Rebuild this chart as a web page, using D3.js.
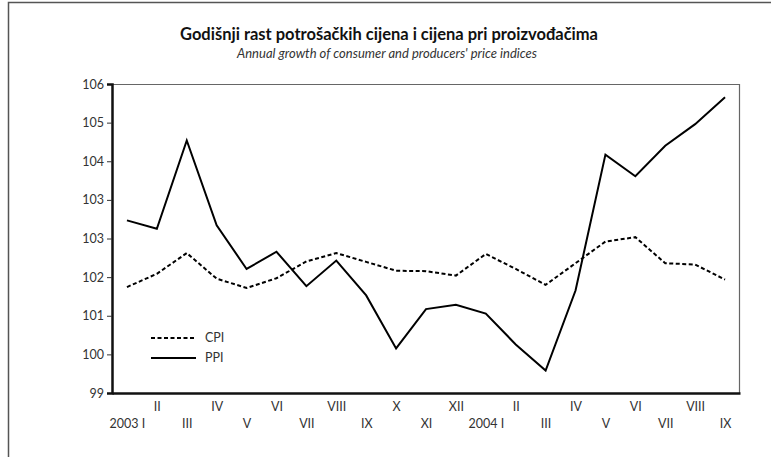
<!DOCTYPE html>
<html>
<head>
<meta charset="utf-8">
<script src="https://cdn.jsdelivr.net/npm/d3@7"></script>
<style>
  body { margin: 0; background: #fff; }
  svg text { font-family: Lato, "Open Sans", sans-serif; fill: #333; }
</style>
</head>
<body>
<div id="canvas"></div>
<script>
// months, 2003 I .. 2004 IX
const months = ["2003 I", "II", "III", "IV", "V", "VI", "VII", "VIII", "IX", "X", "XI", "XII",
                "2004 I", "II", "III", "IV", "V", "VI", "VII", "VIII", "IX"];
const cpi = [101.40, 101.70, 102.17, 101.59, 101.38, 101.60, 101.98, 102.17, 101.97, 101.77, 101.76,
             101.66, 102.15, 101.81, 101.45, 101.94, 102.43, 102.53, 101.94, 101.91, 101.57];
const ppi = [102.91, 102.72, 104.72, 102.80, 101.81, 102.20, 101.42, 102.00, 101.21, 100.01, 100.90,
             101.00, 100.80, 100.10, 99.51, 101.32, 104.40, 103.91, 104.60, 105.09, 105.70];
const seriesNames = ["CPI", "PPI"];
const yMin = 99, yMax = 106, yDivisions = 8;

const width = 771, height = 457;
const margin = { top: 84, left: 112, bottom: 64, right: 31 };
const iwidth = width - margin.left - margin.right;
const iheight = height - margin.top - margin.bottom;

const svg = d3.select("#canvas").append("svg")
    .attr("width", width)
    .attr("height", height);

// outer frame (top and left edges only)
svg.append("path")
    .attr("d", `M8.5,${height} L8.5,2.5 L${width},2.5`)
    .attr("fill", "none")
    .attr("stroke", "#555")
    .attr("stroke-width", 1.5);

svg.append("text")
    .attr("x", 389).attr("y", 40)
    .attr("text-anchor", "middle")
    .style("font-weight", "bold")
    .style("font-size", "16.5px")
    .style("fill", "#111")
    .text("Godišnji rast potrošačkih cijena i cijena pri proizvođačima");

svg.append("text")
    .attr("x", 387).attr("y", 58)
    .attr("text-anchor", "middle")
    .style("font-style", "italic")
    .style("font-size", "13px")
    .style("fill", "#333")
    .text("Annual growth of consumer and producers' price indices");

const g = svg.append("g").attr("transform", `translate(${margin.left},${margin.top})`);

const x = d3.scalePoint()
    .domain(d3.range(months.length))
    .range([0, iwidth])
    .padding(0.5);

const y = d3.scaleLinear()
    .domain([yMin, yMax])
    .range([iheight, 0]);

// top and right frame lines
g.append("path")
    .attr("d", `M0,0.5 H${iwidth - 0.5} V${iheight}`)
    .attr("fill", "none")
    .attr("stroke", "#666")
    .attr("stroke-width", 1.2);

// y axis, 8 equal divisions, labels rounded to integers
const yTicks = d3.range(yDivisions + 1).map(i => yMin + i * (yMax - yMin) / yDivisions);
const yAxis = g.append("g")
    .call(d3.axisLeft(y).tickValues(yTicks).tickSize(5).tickPadding(3).tickFormat(d => Math.round(d)));
yAxis.select(".domain").attr("stroke", "#111").attr("stroke-width", 2.5);
yAxis.selectAll(".tick line").attr("stroke", "#333")
    .attr("opacity", d => (d === yMin || d === yMax) ? 0 : 1);
yAxis.selectAll(".tick text").style("font-size", "12.5px").style("fill", "#333");

// x axis baseline
const xAxis = g.append("g")
    .attr("transform", `translate(0,${iheight})`)
    .call(d3.axisBottom(x).tickSize(0).tickPadding(0).tickFormat(i => months[i]));
xAxis.select(".domain").attr("stroke", "#111").attr("stroke-width", 2.5);
xAxis.selectAll(".tick text")
    .style("font-size", "12.5px")
    .style("fill", "#333")
    .attr("dy", null)
    .attr("y", i => i % 2 === 0 ? 35 : 18);

const line = d3.line()
    .x((d, i) => x(i))
    .y(d => y(d));

g.append("path")
    .datum(cpi)
    .attr("fill", "none")
    .attr("stroke", "#000")
    .attr("stroke-width", 2)
    .attr("stroke-dasharray", "4,2.5")
    .attr("d", line);

g.append("path")
    .datum(ppi)
    .attr("fill", "none")
    .attr("stroke", "#000")
    .attr("stroke-width", 2)
    .attr("d", line);

// legend
const legend = g.append("g").attr("transform", "translate(39,254)");
seriesNames.forEach((name, i) => {
    const row = legend.append("g").attr("transform", `translate(0,${i * 20})`);
    row.append("line")
        .attr("x1", 0).attr("x2", 45)
        .attr("stroke", "#000")
        .attr("stroke-width", 2)
        .attr("stroke-dasharray", i === 0 ? "4,2.5" : null);
    row.append("text")
        .attr("x", 54).attr("dy", "0.35em")
        .style("font-size", "12.5px")
        .text(name);
});
</script>
</body>
</html>
